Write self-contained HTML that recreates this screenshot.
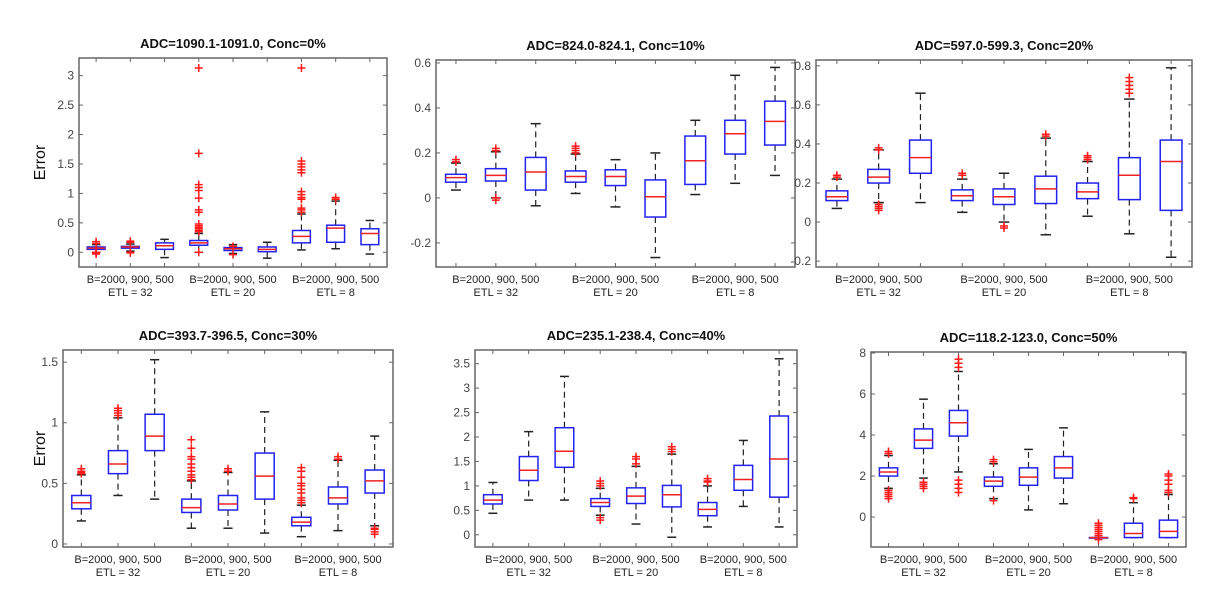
<!DOCTYPE html>
<html><head><meta charset="utf-8"><style>
html,body{margin:0;padding:0;background:#fff;}
svg{display:block;font-family:"Liberation Sans",sans-serif;}
</style></head><body>
<svg id="fig" width="1220" height="610"></svg>
<script>
const titles = ["ADC=1090.1-1091.0, Conc=0%","ADC=824.0-824.1, Conc=10%","ADC=597.0-599.3, Conc=20%","ADC=393.7-396.5, Conc=30%","ADC=235.1-238.4, Conc=40%","ADC=118.2-123.0, Conc=50%"];
const groupLabels = ["ETL = 32","ETL = 20","ETL = 8"];
const yTicks = [[0,0.5,1,1.5,2,2.5,3],[-0.2,0,0.2,0.4,0.6],[-0.2,0,0.2,0.4,0.6,0.8],[0,0.5,1,1.5],[0,0.5,1,1.5,2,2.5,3,3.5],[0,2,4,6,8]];
const yRanges = [[-0.25,3.3],[-0.307,0.613],[-0.23,0.83],[-0.025,1.6],[-0.25,3.78],[-1.46,8.05]];
// each box: [whiskerLow, q1, median, q3, whiskerHigh]
const boxes0 = [[0,0.05,0.07,0.09,0.13],[0.02,0.07,0.09,0.10,0.14],[-0.09,0.05,0.11,0.16,0.22],[0,0.12,0.16,0.2,0.32],[-0.02,0.03,0.06,0.08,0.13],[-0.1,0.01,0.05,0.09,0.17],[0.04,0.16,0.27,0.37,0.65],[0.06,0.17,0.41,0.46,0.87],[-0.03,0.13,0.32,0.4,0.54]];
const outl0 = [[0.18,0.15,-0.03,-0.02,0],[0.19,0.17,0,-0.01],[],[3.13,1.68,1.15,1.1,1.05,0.92,0.72,0.68,0.48,0.45,0.42,0.4,0.37,0.35,0],[-0.04,0.1],[],[3.13,1.55,1.5,1.45,1.4,1.35,1.03,0.98,0.93,0.9,0.75,0.72,0.68],[0.93,0.9],[]];
const boxes1 = [[0.035,0.07,0.09,0.105,0.155],[0,0.075,0.1,0.13,0.205],[-0.035,0.035,0.115,0.18,0.33],[0.02,0.07,0.095,0.12,0.195],[-0.04,0.055,0.095,0.125,0.17],[-0.265,-0.085,0.005,0.08,0.2],[0.015,0.06,0.165,0.275,0.345],[0.065,0.195,0.285,0.345,0.545],[0.1,0.235,0.34,0.43,0.58]];
const outl1 = [[0.16,0.17],[0.21,0.22,-0.01,0],[],[0.2,0.21,0.22,0.23],[],[],[],[],[]];
const boxes2 = [[0.07,0.11,0.13,0.16,0.22],[0.1,0.2,0.23,0.27,0.37],[0.1,0.25,0.33,0.42,0.66],[0.05,0.11,0.135,0.165,0.22],[0,0.09,0.13,0.17,0.25],[-0.065,0.095,0.17,0.235,0.43],[0.03,0.12,0.155,0.2,0.31],[-0.06,0.115,0.24,0.33,0.63],[-0.18,0.06,0.31,0.42,0.79]];
const outl2 = [[0.23,0.24],[0.38,0.37,0.09,0.08,0.07,0.06],[],[0.24,0.25],[-0.02,-0.03],[0.44,0.45],[0.32,0.33,0.34],[0.66,0.68,0.7,0.72,0.74],[]];
const boxes3 = [[0.19,0.29,0.34,0.4,0.57],[0.4,0.58,0.66,0.77,1.04],[0.37,0.77,0.89,1.07,1.52],[0.13,0.26,0.3,0.37,0.52],[0.13,0.28,0.33,0.4,0.59],[0.09,0.37,0.56,0.75,1.09],[0.06,0.15,0.18,0.22,0.32],[0.11,0.33,0.38,0.47,0.69],[0.15,0.42,0.52,0.61,0.89]];
const outl3 = [[0.58,0.59,0.6,0.62],[1.06,1.08,1.1,1.12],[],[0.53,0.55,0.57,0.6,0.63,0.66,0.7,0.72,0.79,0.86],[0.6,0.62],[],[0.34,0.36,0.38,0.42,0.45,0.48,0.5,0.55,0.6,0.63],[0.7,0.72],[0.13,0.12,0.1,0.08]];
const boxes4 = [[0.44,0.63,0.71,0.82,1.07],[0.71,1.11,1.32,1.6,2.11],[0.71,1.38,1.71,2.19,3.24],[0.4,0.58,0.66,0.74,0.95],[0.22,0.64,0.79,0.96,1.4],[-0.05,0.57,0.82,1.01,1.65],[0.16,0.39,0.52,0.66,1.0],[0.58,0.91,1.13,1.42,1.93],[0.16,0.77,1.55,2.43,3.6]];
const outl4 = [[],[],[],[1.0,1.05,1.1,0.35,0.3],[1.45,1.55,1.6],[1.7,1.75,1.8],[1.08,1.1,1.15],[],[]];
const boxes5 = [[1.4,2.0,2.2,2.4,3.0],[1.9,3.35,3.75,4.3,5.75],[2.2,3.95,4.6,5.2,7.1],[0.9,1.5,1.75,1.95,2.6],[0.35,1.55,1.95,2.4,3.3],[0.65,1.9,2.4,2.95,4.35],[-1,-1,-1,-1,-1],[-1,-1,-0.8,-0.3,0.7],[-1,-1,-0.7,-0.15,1.1]];
const outl5 = [[3.1,3.2,1.3,1.2,1.1,1.0,0.9],[1.7,1.6,1.5,1.4],[7.3,7.5,7.7,1.8,1.6,1.4,1.2],[2.7,2.8,0.8],[],[],[-0.3,-0.4,-0.5,-0.6,-0.7,-0.8,-0.9,-1.1],[0.9,0.95],[1.2,1.3,1.6,1.8,2.0,2.1]];
const allBoxes=[boxes0,boxes1,boxes2,boxes3,boxes4,boxes5];
const allOut=[outl0,outl1,outl2,outl3,outl4,outl5];
const frames=[[79,58,387,267],[436,60,795,267],[816,60,1192,267],[63,350,393,547],[475,350,797,547],[871,352,1186,547]];
const NS="http://www.w3.org/2000/svg";
const svg=document.getElementById('fig');
function mk(tag,attrs,parent){const e=document.createElementNS(NS,tag);for(const k in attrs)e.setAttribute(k,attrs[k]);(parent||svg).appendChild(e);return e;}
frames.forEach((f,p)=>{
  const [x0,y0,x1,y1]=f;
  const g=mk('g',{});
  
  
  const [lo,hi]=yRanges[p];
  const ys=v=>y1-(v-lo)/(hi-lo)*(y1-y0);
  const sp=(x1-x0)/9;
  const xs=i=>x0+(i+0.5)*sp;
  const t=mk('text',{x:(x0+x1)/2,y:y0-10,'text-anchor':'middle','font-size':13,'font-weight':'bold',fill:'#111'},g);
  t.textContent=titles[p];
  
  
  const fr=mk('rect',{x:x0,y:y0,width:x1-x0,height:y1-y0,fill:'none',stroke:'#666','stroke-width':1.5},g);
  
  
  yTicks[p].forEach(v=>{
    const y=ys(v);
    mk('line',{x1:x0,x2:x0+4,y1:y,y2:y,stroke:'#666'},g);
    mk('line',{x1:x1,x2:x1-4,y1:y,y2:y,stroke:'#666'},g);
    const l=mk('text',{x:x0-5,y:y+4,'text-anchor':'end','font-size':12,fill:'#444'},g);
    l.textContent=String(v);
    
    
  });
  for(let i=0;i<9;i++){const x=xs(i);mk('line',{x1:x,x2:x,y1:y1,y2:y1-4,stroke:'#666'},g);mk('line',{x1:x,x2:x,y1:y0,y2:y0+4,stroke:'#666'},g);}
  for(let k=0;k<3;k++){
    const cx=xs(3*k+1);
    const a=mk('text',{x:cx,y:y1+16,'text-anchor':'middle','font-size':11,fill:'#222'},g);
    a.textContent='B=2000, 900, 500';
    
    
    const b=mk('text',{x:cx,y:y1+29,'text-anchor':'middle','font-size':11,fill:'#222'},g);
    b.textContent=groupLabels[k];
    
    
  }
  allBoxes[p].forEach((bx,i)=>{
    const x=xs(i),w=sp*0.52,cw=sp*0.25;
    const bg=mk('g',{},g);
    
    
    const [wl,q1,md,q3,wh]=bx;
    mk('line',{x1:x,x2:x,y1:ys(q3),y2:ys(wh),stroke:'#222','stroke-dasharray':'6,4','stroke-width':1.2},bg);
    mk('line',{x1:x,x2:x,y1:ys(q1),y2:ys(wl),stroke:'#222','stroke-dasharray':'6,4','stroke-width':1.2},bg);
    mk('line',{x1:x-cw/2,x2:x+cw/2,y1:ys(wh),y2:ys(wh),stroke:'#222','stroke-width':1.5},bg);
    mk('line',{x1:x-cw/2,x2:x+cw/2,y1:ys(wl),y2:ys(wl),stroke:'#222','stroke-width':1.5},bg);
    mk('rect',{x:x-w/2,y:ys(q3),width:w,height:Math.max(ys(q1)-ys(q3),0.5),fill:'#fff',stroke:'#2222ee','stroke-width':1.5},bg);
    mk('line',{x1:x-w/2,x2:x+w/2,y1:ys(md),y2:ys(md),stroke:'#ee2222','stroke-width':1.5},bg);
    allOut[p][i].forEach(v=>{
      const y=ys(v);
      mk('path',{d:`M${x-4},${y}H${x+4}M${x},${y-4}V${y+4}`,stroke:'#ff1a1a','stroke-width':1.5,fill:'none'},bg);
    });
  });
  if(p===0||p===3){
    const cy=(y0+y1)/2;
    const e=mk('text',{x:45,y:cy,'text-anchor':'middle','font-size':16,fill:'#111',transform:`rotate(-90 45 ${cy})`},g);
    e.textContent='Error';
    
    
  }
});
</script>
</body></html>
